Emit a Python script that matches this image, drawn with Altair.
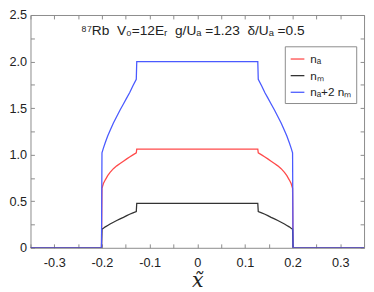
import altair as alt
import pandas as pd

# ---- data ----
x_vals = [-0.350, -0.201, -0.200, -0.197, -0.193, -0.188, -0.183, -0.176, -0.169, -0.162,
          -0.155, -0.148, -0.142, -0.135, -0.128, -0.127,
          0.127, 0.128, 0.135, 0.142, 0.148, 0.155, 0.162, 0.169, 0.176, 0.183,
          0.188, 0.193, 0.197, 0.200, 0.201, 0.350]

n_a = [0, 0, 0.64, 0.69, 0.73, 0.775, 0.81, 0.85, 0.88, 0.905,
       0.93, 0.955, 0.975, 0.998, 1.02, 1.06,
       1.06, 1.02, 0.998, 0.975, 0.955, 0.93, 0.905, 0.88, 0.85, 0.81,
       0.775, 0.73, 0.69, 0.64, 0, 0]

n_m = [0, 0, 0.20, 0.21, 0.225, 0.24, 0.255, 0.275, 0.293, 0.31,
       0.327, 0.345, 0.36, 0.375, 0.39, 0.478,
       0.478, 0.39, 0.375, 0.36, 0.345, 0.327, 0.31, 0.293, 0.275, 0.255,
       0.24, 0.225, 0.21, 0.20, 0, 0]

n_tot = [0, 0, 1.02, 1.07, 1.13, 1.20, 1.26, 1.34, 1.41, 1.48,
         1.545, 1.61, 1.665, 1.74, 1.81, 2.0,
         2.0, 1.81, 1.74, 1.665, 1.61, 1.545, 1.48, 1.41, 1.34, 1.26,
         1.20, 1.13, 1.07, 1.02, 0, 0]

series_names = ["n\u2090", "n\u2098", "n\u2090+2 n\u2098"]
series_colors = ["#ff4a4a", "#333333", "#4a5aff"]

x_label_values = [-0.3, -0.2, -0.1, 0.0, 0.1, 0.2, 0.3]
x_tick_values = [-0.35, -0.3, -0.25, -0.2, -0.15, -0.1, -0.05, 0.0, 0.05, 0.1, 0.15, 0.2, 0.25, 0.3, 0.35]
y_label_values = [0, 0.5, 1.0, 1.5, 2.0, 2.5]
y_tick_values = [0, 0.25, 0.5, 0.75, 1.0, 1.25, 1.5, 1.75, 2.0, 2.25, 2.5]

title_text = "\u2078\u2077Rb\u00a0\u00a0V\u2080=12E\u1d63\u00a0\u00a0g/U\u2090\u00a0=1.23\u00a0\u00a0\u03b4/U\u2090\u00a0=0.5"

rows = []
for name, ys in zip(series_names, [n_a, n_m, n_tot]):
    for xv, yv in zip(x_vals, ys):
        rows.append({"x": xv, "y": yv, "s": name})
df = pd.DataFrame(rows)

FONT = "Liberation Sans"
FRAME = "#8a8a8a"
TXT = "#222222"

xscale = alt.Scale(domain=[-0.35, 0.35], nice=False, zero=False)
yscale = alt.Scale(domain=[0, 2.5], nice=False, zero=False)

x_lab_expr = "datum.value == 0 ? '0' : (datum.value < 0 ? '-' + format(-datum.value, '.1f') : format(datum.value, '.1f'))"
y_lab_expr = "datum.value == 0 ? '0' : format(datum.value, '.1f')"

lines = alt.Chart(df).mark_line(strokeWidth=1.3, clip=True).encode(
    x=alt.X("x:Q", scale=xscale,
            axis=alt.Axis(orient="bottom", values=x_label_values, labelExpr=x_lab_expr,
                          ticks=False, domain=False, grid=False, labelPadding=9,
                          labelFont=FONT, labelFontSize=13, labelColor=TXT,
                          title="x\u0303", titleFont="DejaVu Serif", titleFontStyle="italic",
                          titleFontWeight="normal", titleFontSize=21, titleColor=TXT,
                          titlePadding=1)),
    y=alt.Y("y:Q", scale=yscale,
            axis=alt.Axis(orient="left", values=y_label_values, labelExpr=y_lab_expr,
                          ticks=False, domain=False, grid=False, labelPadding=4,
                          labelFont=FONT, labelFontSize=13, labelColor=TXT, title=None)),
    color=alt.Color("s:N", scale=alt.Scale(domain=series_names, range=series_colors),
                    legend=alt.Legend(orient="none", legendX=260, legendY=32, title=None,
                                      symbolType="stroke", symbolSize=196, symbolStrokeWidth=1.3,
                                      labelFont=FONT, labelFontSize=12, labelColor=TXT,
                                      labelOffset=5, padding=5, rowPadding=3,
                                      strokeColor=FRAME, fillColor="white")),
)

def tick_layer(xorient, yorient):
    return alt.Chart(df).mark_point(opacity=0).encode(
        x=alt.X("x:Q", scale=xscale,
                axis=alt.Axis(orient=xorient, offset=-4, values=x_tick_values, tickSize=4,
                              tickColor=FRAME, labels=False, domain=False, grid=False, title=None)),
        y=alt.Y("y:Q", scale=yscale,
                axis=alt.Axis(orient=yorient, offset=-4, values=y_tick_values, tickSize=4,
                              tickColor=FRAME, labels=False, domain=False, grid=False, title=None)),
    )

ticks_a = tick_layer("bottom", "left")
ticks_b = tick_layer("top", "right")

title = alt.Chart(pd.DataFrame({"t": [title_text]})).mark_text(
    font=FONT, fontSize=14, color=TXT, align="center", baseline="alphabetic"
).encode(text="t:N", x=alt.value(166), y=alt.value(20))

chart = alt.layer(lines, ticks_a, ticks_b, title).resolve_axis(
    x="independent", y="independent"
).properties(
    width=341, height=238,
    autosize=alt.AutoSizeParams(type="none"),
    padding={"left": 23, "top": 4, "right": 2, "bottom": 41},
).configure_view(stroke=FRAME, strokeWidth=1)

chart.save("out.html", embed_options={"renderer": "svg", "actions": False})
